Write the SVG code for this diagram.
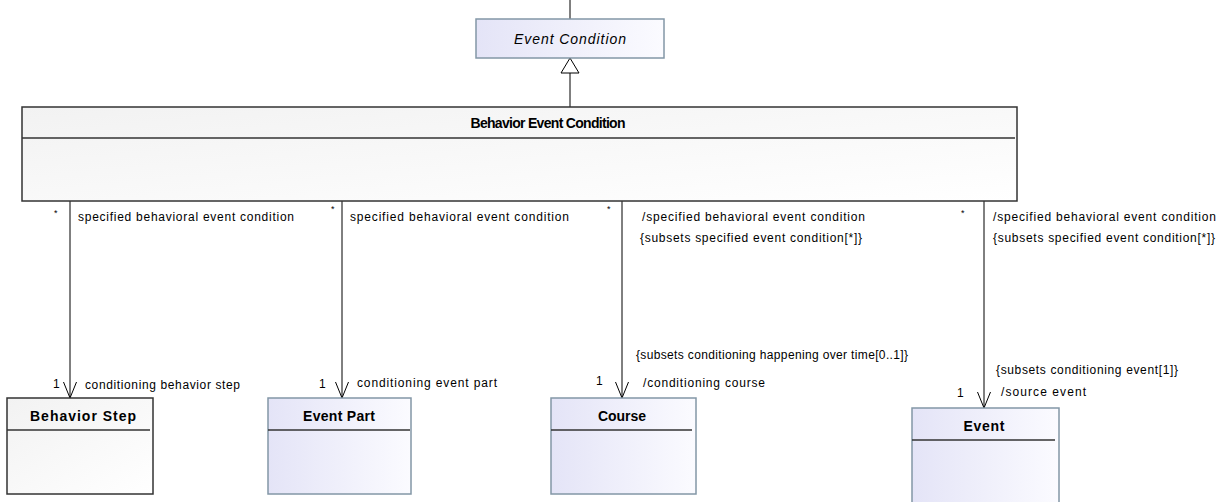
<svg xmlns="http://www.w3.org/2000/svg" width="1223" height="502" viewBox="0 0 1223 502">
  <style>
    text { font-family: "Liberation Sans", Arial, sans-serif; fill: #000; }
    .lbl { font-size: 12px; }
    .mult { font-size: 12px; }
    .star { font-size: 9px; }
    .title { font-size: 14px; font-weight: bold; text-anchor: middle; }
    .ital { font-size: 14px; font-style: italic; text-anchor: middle; }
    .cls-white { fill: url(#gWhite); stroke: #333; stroke-width: 1.5; }
    .cls-blue { fill: url(#gBlue); stroke: #8397a6; stroke-width: 1.5; }
    .sep { stroke: #333; stroke-width: 1.5; }
    .conn { stroke: #000; stroke-width: 1; fill: none; }
  </style>
  <defs>
    <linearGradient id="gWhite" x1="0" y1="0" x2="1" y2="1">
      <stop offset="0" stop-color="#f2f2f2"/>
      <stop offset="1" stop-color="#ffffff"/>
    </linearGradient>
    <linearGradient id="gBlue" x1="0" y1="0" x2="1" y2="0">
      <stop offset="0" stop-color="#e4e4f7"/>
      <stop offset="1" stop-color="#fbfbff"/>
    </linearGradient>
    <!-- open navigability arrowhead, pointing along the line -->
    <marker id="openArrow" viewBox="0 0 17 14" refX="16" refY="7" markerWidth="17" markerHeight="14" markerUnits="userSpaceOnUse" orient="auto">
      <path d="M0,0.5 L16,7 L0,13.5" fill="none" stroke="#000" stroke-width="1"/>
    </marker>
  </defs>

  <rect width="1223" height="502" fill="#fff"/>

  <!-- connectors -->
  <g id="connectors">
    <!-- generalization to Event Condition -->
    <line class="conn" x1="570" y1="0" x2="570" y2="19"/>
    <line class="conn" x1="570" y1="73" x2="570" y2="107"/>
    <path d="M570,58 L561,73 L579,73 Z" fill="#fff" stroke="#000" stroke-width="1"/>

    <!-- associations -->
    <line class="conn" x1="70" y1="201" x2="70" y2="398" marker-end="url(#openArrow)"/>
    <line class="conn" x1="342" y1="201" x2="342" y2="398" marker-end="url(#openArrow)"/>
    <line class="conn" x1="622" y1="201" x2="622" y2="398" marker-end="url(#openArrow)"/>
    <line class="conn" x1="984" y1="201" x2="984" y2="408" marker-end="url(#openArrow)"/>

    <!-- end labels: Behavior Step -->
    <text class="star" x="54" y="216">*</text>
    <text class="lbl" x="78" y="221" textLength="216" lengthAdjust="spacing">specified behavioral event condition</text>
    <text class="mult" x="53" y="388">1</text>
    <text class="lbl" x="85" y="389" textLength="155" lengthAdjust="spacing">conditioning behavior step</text>

    <!-- end labels: Event Part -->
    <text class="star" x="331" y="212">*</text>
    <text class="lbl" x="350" y="221" textLength="219" lengthAdjust="spacing">specified behavioral event condition</text>
    <text class="mult" x="319" y="388">1</text>
    <text class="lbl" x="357" y="387" textLength="140" lengthAdjust="spacing">conditioning event part</text>

    <!-- end labels: Course -->
    <text class="star" x="607" y="212">*</text>
    <text class="lbl" x="642" y="221" textLength="223" lengthAdjust="spacing">/specified behavioral event condition</text>
    <text class="lbl" x="640" y="242" textLength="222" lengthAdjust="spacing">{subsets specified event condition[*]}</text>
    <text class="lbl" x="636" y="359" textLength="272" lengthAdjust="spacing">{subsets conditioning happening over time[0..1]}</text>
    <text class="mult" x="596" y="385">1</text>
    <text class="lbl" x="643" y="387" textLength="122" lengthAdjust="spacing">/conditioning course</text>

    <!-- end labels: Event -->
    <text class="star" x="961" y="216">*</text>
    <text class="lbl" x="993" y="221" textLength="223" lengthAdjust="spacing">/specified behavioral event condition</text>
    <text class="lbl" x="993" y="242" textLength="222" lengthAdjust="spacing">{subsets specified event condition[*]}</text>
    <text class="lbl" x="996" y="374" textLength="182" lengthAdjust="spacing">{subsets conditioning event[1]}</text>
    <text class="mult" x="957" y="397">1</text>
    <text class="lbl" x="1001" y="396" textLength="85" lengthAdjust="spacing">/source event</text>
  </g>

  <!-- Event Condition (abstract) -->
  <g id="event-condition">
    <rect class="cls-blue" x="476" y="19" width="188" height="39"/>
    <text class="ital" x="570" y="44" textLength="112" lengthAdjust="spacing">Event Condition</text>
  </g>

  <!-- Behavior Event Condition -->
  <g id="behavior-event-condition">
    <rect class="cls-white" x="22" y="107" width="995" height="94"/>
    <line class="sep" x1="22" y1="138" x2="1015" y2="138"/>
    <text class="title" x="548" y="128" textLength="155" lengthAdjust="spacing">Behavior Event Condition</text>
  </g>

  <!-- Behavior Step -->
  <g id="behavior-step">
    <rect class="cls-white" x="7" y="398" width="146" height="96"/>
    <line class="sep" x1="7" y1="430" x2="150" y2="430"/>
    <text class="title" x="83" y="421" textLength="106" lengthAdjust="spacing">Behavior Step</text>
  </g>

  <!-- Event Part -->
  <g id="event-part">
    <rect class="cls-blue" x="268" y="398" width="143" height="96"/>
    <line class="sep" x1="268" y1="430" x2="410" y2="430"/>
    <text class="title" x="339" y="421" textLength="72" lengthAdjust="spacing">Event Part</text>
  </g>

  <!-- Course -->
  <g id="course">
    <rect class="cls-blue" x="551" y="398" width="145" height="96"/>
    <line class="sep" x1="551" y1="430" x2="692" y2="430"/>
    <text class="title" x="622" y="421" textLength="48" lengthAdjust="spacing">Course</text>
  </g>

  <!-- Event -->
  <g id="event">
    <rect class="cls-blue" x="912" y="408" width="147" height="100"/>
    <line class="sep" x1="912" y1="440" x2="1055" y2="440"/>
    <text class="title" x="984" y="431" textLength="41" lengthAdjust="spacing">Event</text>
  </g>
</svg>
